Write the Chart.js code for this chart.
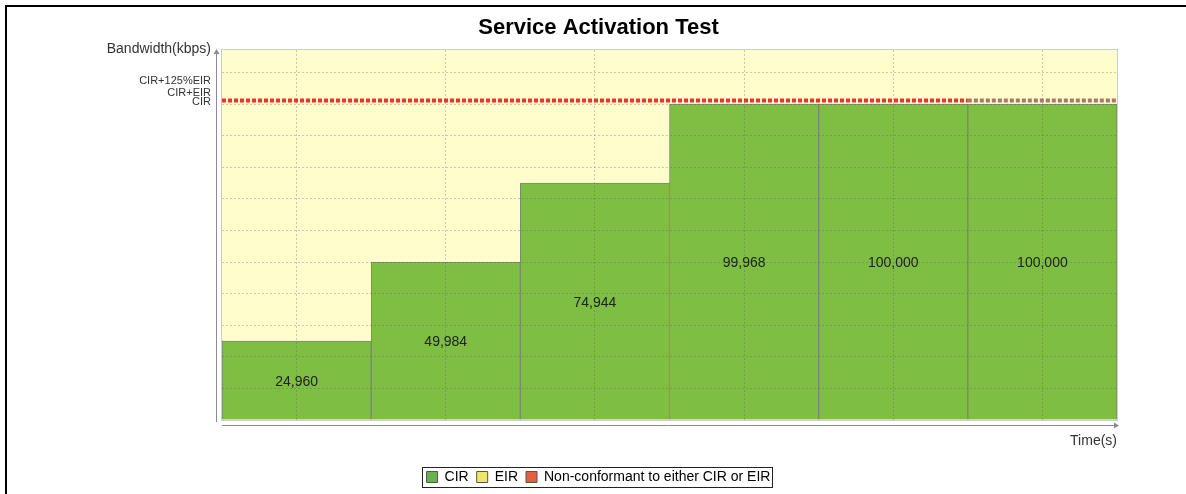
<!DOCTYPE html>
<html>
<head>
<meta charset="utf-8">
<script src="https://cdn.jsdelivr.net/npm/chart.js@4/dist/chart.umd.min.js"></script>
<style>
  html, body { margin: 0; padding: 0; background: #fff; }
</style>
</head>
<body>
<canvas id="myChart" width="1186" height="494"></canvas>
<script>
const categories = ['1', '2', '3', '4', '5', '6'];
const cirValues = [24960, 49984, 74944, 99968, 100000, 100000];

// threshold line (x in bar slots, y in kbps)
const thresholdX = [0, 5, 6];
const thresholdY = [101100, 101100, 101100];

const gridValues = [0, 10000, 20000, 30000, 40000, 50000, 60000, 70000, 80000, 90000, 100000, 110000];
const levelValues = [100700, 103500, 107300];
const levelLabels = ['CIR', 'CIR+EIR', 'CIR+125%EIR'];

const legendNames = ['CIR', 'EIR', 'Non-conformant to either CIR or EIR'];
const legendColors = ['#6ab04c', '#efe867', '#e2613f'];

const FONT = '"Liberation Sans", Arial, sans-serif';
Chart.defaults.font.family = FONT;
Chart.defaults.color = '#333';

const gridColor = 'rgba(90,90,90,0.3)';

const decorations = {
  id: 'decorations',
  beforeDraw(chart) {
    const ctx = chart.ctx, ca = chart.chartArea;
    ctx.save();
    ctx.fillStyle = '#fff';
    ctx.fillRect(0, 0, chart.width, chart.height);
    ctx.fillStyle = '#000';
    ctx.fillRect(5, 5, chart.width - 5, 2);
    ctx.fillRect(5, 5, 2, chart.height - 5);
    ctx.fillStyle = '#fffdcc';
    ctx.fillRect(ca.left, ca.top, ca.right - ca.left, ca.bottom - ca.top);
    ctx.restore();
  },
  afterDraw(chart) {
    const ctx = chart.ctx, ca = chart.chartArea;
    ctx.save();
    // plot outline
    ctx.strokeStyle = '#c6ced6';
    ctx.lineWidth = 1;
    ctx.strokeRect(ca.left - 0.5, ca.top - 0.5, ca.right - ca.left + 1, ca.bottom - ca.top + 1);

    // value labels in the bars
    const meta = chart.getDatasetMeta(0);
    ctx.font = '14px ' + FONT;
    ctx.fillStyle = '#222';
    ctx.textAlign = 'center';
    ctx.textBaseline = 'middle';
    meta.data.forEach((bar, i) => {
      ctx.fillText(cirValues[i].toLocaleString('en-US'), bar.x, (bar.y + bar.base) / 2 + 1.5);
    });

    // axis lines with arrows
    ctx.strokeStyle = '#8c8c8c';
    ctx.fillStyle = '#8c8c8c';
    const ax = ca.left - 5.5;
    ctx.beginPath();
    ctx.moveTo(ax, ca.top + 2);
    ctx.lineTo(ax, ca.bottom + 2);
    ctx.stroke();
    ctx.beginPath();
    ctx.moveTo(ax, ca.top - 1);
    ctx.lineTo(ax - 3, ca.top + 4);
    ctx.lineTo(ax + 3, ca.top + 4);
    ctx.fill();
    const ay = ca.bottom + 5.5;
    ctx.beginPath();
    ctx.moveTo(ca.left, ay);
    ctx.lineTo(ca.right - 2, ay);
    ctx.stroke();
    ctx.beginPath();
    ctx.moveTo(ca.right + 2, ay);
    ctx.lineTo(ca.right - 3, ay - 3);
    ctx.lineTo(ca.right - 3, ay + 3);
    ctx.fill();

    // y axis name
    ctx.fillStyle = '#333';
    ctx.textAlign = 'right';
    ctx.fillText('Bandwidth(kbps)', ca.left - 11, ca.top - 1);

    // legend frame
    const hit = chart.legend.legendHitBoxes;
    if (hit && hit.length) {
      const last = hit[hit.length - 1];
      const l = hit[0].left - 5, r = last.left + last.width + 1;
      ctx.strokeStyle = '#222';
      ctx.strokeRect(Math.round(l) + 0.5, Math.round(hit[0].top - 3) + 0.5, Math.round(r - l), 20);
    }
    ctx.restore();
  }
};

new Chart(document.getElementById('myChart'), {
  type: 'bar',
  data: {
    labels: categories,
    datasets: [{
      label: 'CIR',
      data: cirValues,
      backgroundColor: '#7dbe43',
      borderColor: '#80876f',
      borderWidth: 1,
      categoryPercentage: 1,
      barPercentage: 1,
      grouped: false,
      xAxisID: 'x',
      yAxisID: 'y',
      order: 1
    }, {
      type: 'line',
      label: 'threshold',
      data: thresholdX.map((x, i) => ({x: x, y: thresholdY[i]})),
      xAxisID: 'xl',
      yAxisID: 'y',
      borderColor: '#e8342a',
      borderWidth: 4,
      borderDash: [4, 2],
      pointRadius: 0,
      segment: {
        borderColor: c => c.p0DataIndex === 1 ? '#a9786a' : '#e8342a'
      },
      order: 0
    }]
  },
  options: {
    responsive: false,
    animation: false,
    layout: { padding: { left: 11, right: 0, top: 0, bottom: 0 } },
    scales: {
      x: {
        type: 'category',
        offset: true,
        grid: { offset: false, drawTicks: false, color: gridColor, z: 1 },
        border: { display: false, dash: [2, 2] },
        ticks: { display: false },
        title: {
          display: true,
          text: 'Time(s)',
          align: 'end',
          color: '#333',
          font: { size: 14 },
          padding: { top: 0, bottom: 12.6 }
        },
        afterFit: s => { s.height = 42; }
      },
      xl: {
        type: 'linear',
        axis: 'x',
        min: 0,
        max: 6,
        offset: false,
        grid: { offset: false },
        display: false
      },
      y: {
        type: 'linear',
        min: 0,
        max: 117100,
        afterBuildTicks: s => {
          s.ticks = gridValues.concat(levelValues)
            .sort((a, b) => a - b)
            .map(v => ({value: v}));
        },
        ticks: {
          autoSkip: false,
          padding: 11,
          color: '#333',
          font: { size: 11 },
          callback: v => {
            const i = levelValues.indexOf(v);
            return i >= 0 ? levelLabels[i] : '';
          }
        },
        grid: {
          drawTicks: false,
          z: 1,
          color: c => (c.tick && levelValues.includes(c.tick.value)) ? 'rgba(0,0,0,0)' : gridColor
        },
        border: { display: false, dash: [2, 2] },
        afterFit: s => { s.width = 211; }
      },
      yr: {
        type: 'linear',
        position: 'right',
        ticks: { display: false },
        grid: { display: false },
        border: { display: false },
        afterFit: s => { s.width = 69; }
      }
    },
    plugins: {
      title: {
        display: true,
        text: 'Service Activation Test',
        color: '#000',
        font: { size: 22, weight: 'bold' },
        padding: { top: 15, bottom: 8.6 }
      },
      legend: {
        position: 'bottom',
        labels: {
          color: '#000',
          font: { size: 14 },
          boxWidth: 11,
          boxHeight: 11,
          padding: 8,
          generateLabels: () => legendNames.map((t, i) => ({
            text: t,
            fillStyle: legendColors[i],
            strokeStyle: '#555',
            lineWidth: 1,
            hidden: false,
            datasetIndex: 0
          }))
        }
      },
      tooltip: { enabled: false }
    }
  },
  plugins: [decorations]
});
</script>
</body>
</html>
